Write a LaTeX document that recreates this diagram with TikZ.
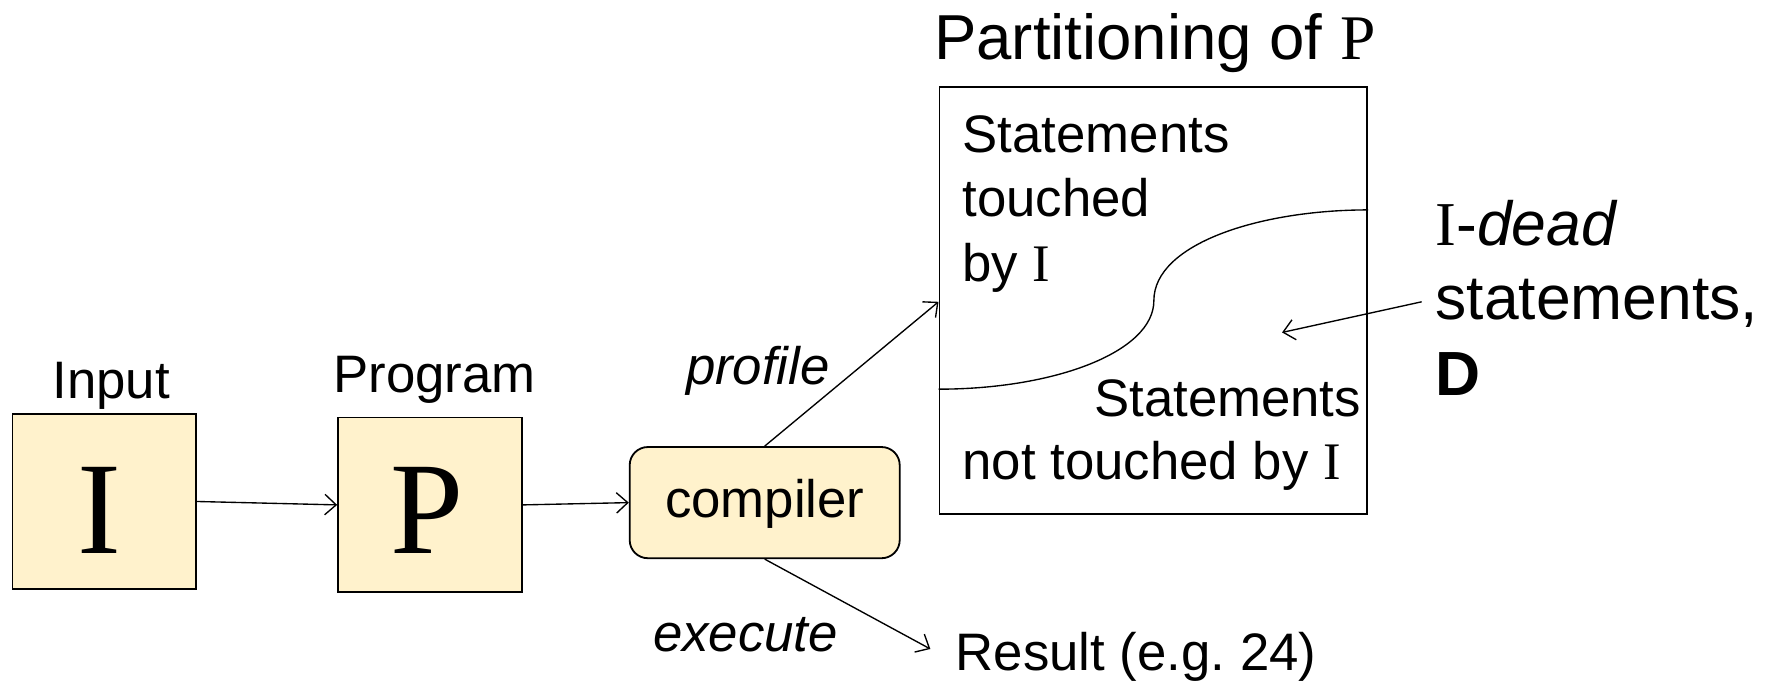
\documentclass[tikz,border=0pt]{standalone}
\usepackage{fontspec}
\setmainfont{Liberation Sans}
\newfontfamily\timesf{Liberation Serif}
\usetikzlibrary{arrows.meta}
\definecolor{boxfill}{HTML}{FFF2CC}
\frenchspacing
\begin{document}
\begin{tikzpicture}[x=0.5pt,y=-0.5pt,
  conn/.style={draw, line width=0.6pt, -{Straight Barb[length=5pt,width=9pt]}},
  sqbox/.style={draw, line width=0.8pt, fill=boxfill, minimum width=81pt, minimum height=77pt, inner sep=0pt},
  txt/.style={font=\fontsize{23.25}{27}\selectfont, inner sep=0pt},
  bigtxt/.style={font=\fontsize{27.5}{32}\selectfont, inner sep=0pt},
  letter/.style={font=\timesf\fontsize{58}{60}\selectfont, inner sep=0pt}
]
\useasboundingbox (0,0) rectangle (1568,601);

% input and program boxes
\node[sqbox] (in) at (92,442) {};
\node[letter, anchor=base] (inI) at (88,488) {I};
\node[txt, anchor=base] (inlab) at (98,351) {Input};

\node[sqbox] (prog) at (379,445) {};
\node[letter, anchor=base] (progP) at (376,488) {P};
\node[txt, anchor=base] (proglab) at (383,346) {Program};

% compiler
\node[draw, line width=0.8pt, fill=boxfill, rounded corners=8pt,
      minimum width=119pt, minimum height=49pt, inner sep=0pt] (comp) at (674,443) {};
\node[txt, anchor=base] (complab) at (674,456) {compiler};

\draw[conn] (in.east) -- (prog.west);
\draw[conn] (prog.east) -- (comp.west);

% partition of the program
\node[txt, anchor=base, font=\fontsize{28}{32}\selectfont] (ptitle) at (1018,52) {Partitioning of {\timesf P}};
\node[draw, line width=0.8pt, minimum width=188.5pt, minimum height=188pt, inner sep=0pt] (part) at (1016.5,265) {};

\coordinate (cL) at (part.west |- 0,343);
\coordinate (cM) at (1017,265);
\coordinate (cR) at (part.east |- 0,185);
\draw[line width=0.6pt] (cL) .. controls (930,343) and (1017,310) .. (cM)
      .. controls (1017,215) and (1110,185) .. (cR);

\node[txt, anchor=base west] (t1) at (848,134) {Statements};
\node[txt, anchor=base west] (t2) at (848,191) {touched};
\node[txt, anchor=base west] (t3) at (848,248) {by {\timesf I}};
\node[txt, anchor=base east] (n1) at (1200,367) {Statements};
\node[txt, anchor=base west] (n2) at (848,423) {not touched by {\timesf I}};

% profile and execute branches
\coordinate (pin) at (part.west |- 0,266);
\draw[conn] (comp.north) -- (pin);
\node[txt, anchor=base, font=\fontsize{23.25}{27}\selectfont\itshape] (prof) at (668,339) {profile};

\node[txt, anchor=base west] (res) at (842,591) {Result (e.g. 24)};
\coordinate (rin) at (820,572);
\draw[conn] (comp.south) -- (rin);
\node[txt, anchor=base, font=\fontsize{23.25}{27}\selectfont\itshape] (exe) at (657,574) {execute};

% dead statements annotation
\node[bigtxt, anchor=base west] (d1) at (1265,216) {{\timesf I}-\textit{dead}};
\node[bigtxt, anchor=base west] (d2) at (1265,282) {statements,};
\node[bigtxt, anchor=base west] (d3) at (1265,349) {\textbf{D}};
\coordinate (dstart) at (1253,266);
\coordinate (dend) at (1130,293);
\draw[conn] (dstart) -- (dend);
\end{tikzpicture}
\end{document}
